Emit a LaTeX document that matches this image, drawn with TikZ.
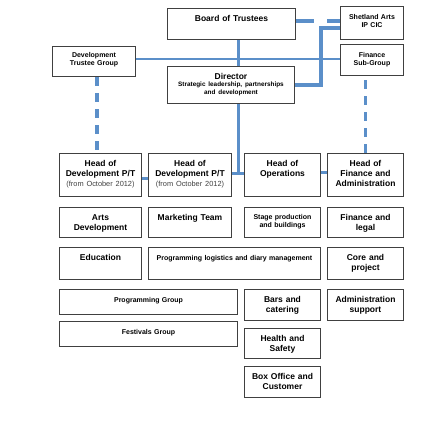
\documentclass[tikz,border=0pt]{standalone}
\usepackage{fontspec}
\setmainfont{Liberation Sans}
\usepackage{xcolor}
\usepackage{tikz}
\usetikzlibrary{arrows.meta}

\definecolor{linkblue}{RGB}{91,143,201}

\begin{document}
\begin{tikzpicture}[x=1pt, y=-1pt,
        box/.style={draw=black!75, line width=1.1pt, fill=white, inner sep=0pt,
            align=center, text height=13pt, font=\bfseries\fontsize{8.5}{10}\selectfont},
        smallbox/.style={box, font=\bfseries\fontsize{7}{8.5}\selectfont},
        link/.style={draw=linkblue, line width=3pt},
        thinlink/.style={draw=linkblue, line width=2pt},
        dashlink/.style={draw=linkblue, line width=3.5pt, dash pattern=on 9pt off 7pt}]
        \useasboundingbox (0,0) rectangle (441,442);

        % Board level
        \draw (231.5,24) node[box, text width=128pt, text depth=18pt] (board) {Board of Trustees};
        \draw (94,61.5) node[smallbox, text width=83pt, text height=10.5pt, text depth=19.5pt] (trustgrp) {Development\\Trustee Group};
        \draw (231,85) node[box, text width=127pt, text depth=24pt] (director)
            {Director\\[-0.5pt]{\fontsize{6.4}{7}\selectfont Strategic leadership, partnerships\\[-2pt]and development}};
        \draw (372,23) node[smallbox, text width=63pt, text height=12.5pt, text depth=20.5pt] (shetland) {Shetland Arts\\IP CIC};
        \draw (372,60) node[smallbox, text width=63pt, text height=12.5pt, text depth=18.5pt] (finsub) {Finance\\Sub-Group};

        % Heads
        \draw (100.5,175) node[box, text width=82pt, text depth=30pt] (hod1)
            {Head of\\Development P/T\\{\mdseries\color{black!75}\fontsize{7.4}{9}\selectfont (from October 2012)}};
        \draw (190,175) node[box, text width=83pt, text depth=30pt] (hod2)
            {Head of\\Development P/T\\{\mdseries\color{black!75}\fontsize{7.4}{9}\selectfont (from October 2012)}};
        \draw (282.5,175) node[box, text width=76pt, text depth=30pt] (ops) {Head of\\Operations};
        \draw (365.5,175) node[box, text width=76pt, text depth=30pt] (hfin) {Head of\\Finance and\\Administration};

        % Teams
        \draw (100.5,222.5) node[box, text width=82pt, text depth=17pt] (arts) {Arts\\Development};
        \draw (190,222.5) node[box, text width=83pt, text depth=17pt] (mkt) {Marketing Team};
        \draw (282.5,222.5) node[smallbox, text width=76pt, text height=11.5pt, text depth=18.5pt] (stage) {Stage production\\and buildings};
        \draw (365.5,222.5) node[box, text width=76pt, text depth=17pt] (finlegal) {Finance and\\legal};

        \draw (100.5,263.5) node[box, text width=82pt, text depth=19pt] (edu) {Education};
        \draw (234.5,263.5) node[smallbox, text width=172pt, text depth=19pt] (proglog) {Programming logistics and diary management};
        \draw (365.5,263.5) node[box, text width=76pt, text depth=19pt] (core) {Core and\\project};

        \draw (148.5,302) node[smallbox, text width=178pt, text height=12.5pt, text depth=12.5pt] (proggrp) {Programming Group};
        \draw (282.5,305) node[box, text width=76pt, text depth=18pt] (bars) {Bars and\\catering};
        \draw (365.5,305) node[box, text width=76pt, text depth=18pt] (admin) {Administration\\support};

        \draw (148.5,334) node[smallbox, text width=178pt, text height=12.5pt, text depth=12.5pt] (fest) {Festivals Group};
        \draw (282.5,343.5) node[box, text width=76pt, text depth=17pt] (health) {Health and\\Safety};

        \draw (282.5,382) node[box, text width=76pt, text depth=18pt] (boxoff) {Box Office and\\Customer};

        % Connectors
        \coordinate (spine) at (238,0);
        \coordinate (devline) at (97,0);
        \draw[thinlink] ([yshift=3pt]trustgrp.east) -- ([yshift=3pt]trustgrp.east -| finsub.west);
        \draw[link] (board.south -| spine) -- (director.north -| spine);
        \draw[link] (director.south -| spine) -- ([yshift=2pt]hod2.east -| spine);
        \draw[link, line width=3.5pt] (director.east) -| ([xshift=-19pt, yshift=-5pt]shetland.west) -- ([yshift=-5pt]shetland.west);
        \draw[dashlink, dash pattern=on 18pt off 13pt] ([yshift=3pt]board.east) -- ([yshift=3pt]board.east -| shetland.west);
        \draw[dashlink] (trustgrp.south -| devline) -- (hod1.north -| devline);
        \draw[dashlink] (hfin.north) -- (hfin.north |- finsub.south);
        \draw[link] ([yshift=-3pt]hod1.east) -- ([yshift=-3pt]hod2.west);
        \draw[link] ([yshift=2pt]hod2.east) -- ([yshift=2pt]ops.west);
        \draw[link] ([yshift=3pt]ops.east) -- ([yshift=3pt]hfin.west);
    \end{tikzpicture}
\end{document}
